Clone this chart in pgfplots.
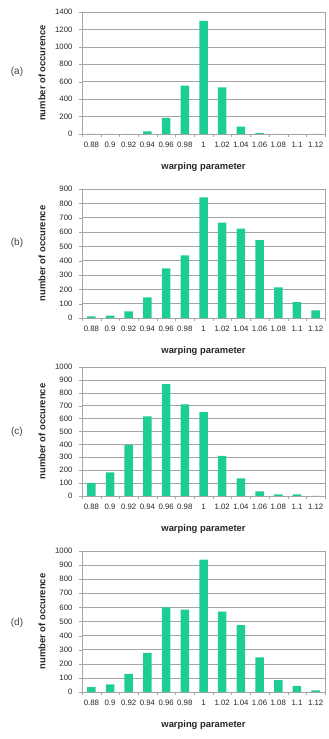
\documentclass[border=0pt]{standalone}
\usepackage{pgfplots}
\pgfplotsset{compat=1.18}
\usepackage{fontspec}
\setmainfont{Liberation Sans}

\definecolor{barcol}{RGB}{30,204,150}
\definecolor{gridcol}{RGB}{165,165,165}

\tikzset{panel/.style={font=\fontsize{10}{12}\selectfont, text=black!75}}

\pgfplotsset{
  histo/.style={
    scale only axis,
    width=243pt,
    ymin=0,
    xmin=-0.5, xmax=12.5,
    xtick={0,...,12},
    xticklabels={0.88,0.9,0.92,0.94,0.96,0.98,1,1.02,1.04,1.06,1.08,1.1,1.12},
    minor xtick={-0.5,0.5,...,12.5},
    major x tick style={draw=none},
    minor x tick style={gridcol},
    tick align=outside,
    ytick pos=left,
    xtick pos=bottom,
    major tick length=3pt,
    minor tick length=3pt,
    axis line style={gridcol},
    ymajorgrids,
    grid style={gridcol, line width=0.5pt},
    y tick style={gridcol},
    tick label style={font=\fontsize{7.8}{9}\selectfont, text=black!85},
    /pgf/number format/assume math mode=true,
    /pgf/number format/1000 sep={},
    yticklabel style={xshift=-3pt},
    xticklabel style={yshift=-2pt},
    xlabel={warping parameter},
    ylabel={number of occurence},
    every axis x label/.style={at={([yshift=-33pt]axis description cs:0.5,0)}, anchor=center,
      font=\fontsize{9.4}{11}\selectfont\bfseries, text=black!85},
    every axis y label/.style={at={([xshift=-40pt]axis description cs:0,0.5)}, rotate=90, anchor=center,
      font=\fontsize{9.4}{11}\selectfont\bfseries, text=black!85},
    ybar, bar width=8.5pt,
    clip=false,
  },
}

\begin{document}
\begin{tikzpicture}
\useasboundingbox (0pt,0pt) rectangle (329pt,739pt);

% (a)
\begin{axis}[histo, at={(82pt,605pt)}, anchor=south west, height=122pt,
  ymax=1400, ytick={0,200,...,1400}]
\addplot[fill=barcol, draw=none] coordinates {(0,0) (1,0) (2,0) (3,30) (4,184) (5,556) (6,1298) (7,535) (8,84) (9,10) (10,0) (11,0) (12,0)};
\end{axis}
\node[panel] at (17pt,667pt) {(a)};

% (b)
\begin{axis}[histo, at={(82pt,421pt)}, anchor=south west, height=129pt,
  ymax=900, ytick={0,100,...,900}]
\addplot[fill=barcol, draw=none] coordinates {(0,12) (1,16) (2,47) (3,143) (4,346) (5,437) (6,841) (7,666) (8,623) (9,544) (10,213) (11,110) (12,54)};
\end{axis}
\node[panel] at (17pt,496pt) {(b)};

% (c)
\begin{axis}[histo, at={(82pt,243pt)}, anchor=south west, height=129pt,
  ymax=1000, ytick={0,100,...,1000}]
\addplot[fill=barcol, draw=none] coordinates {(0,101) (1,184) (2,396) (3,617) (4,868) (5,710) (6,650) (7,311) (8,137) (9,36) (10,13) (11,13) (12,0)};
\end{axis}
\node[panel] at (17pt,307pt) {(c)};

% (d)
\begin{axis}[histo, at={(82pt,47pt)}, anchor=south west, height=141pt,
  ymax=1000, ytick={0,100,...,1000}]
\addplot[fill=barcol, draw=none] coordinates {(0,35) (1,54) (2,128) (3,277) (4,600) (5,584) (6,938) (7,570) (8,475) (9,246) (10,85) (11,43) (12,12)};
\end{axis}
\node[panel] at (17pt,116pt) {(d)};
\end{tikzpicture}
\end{document}
